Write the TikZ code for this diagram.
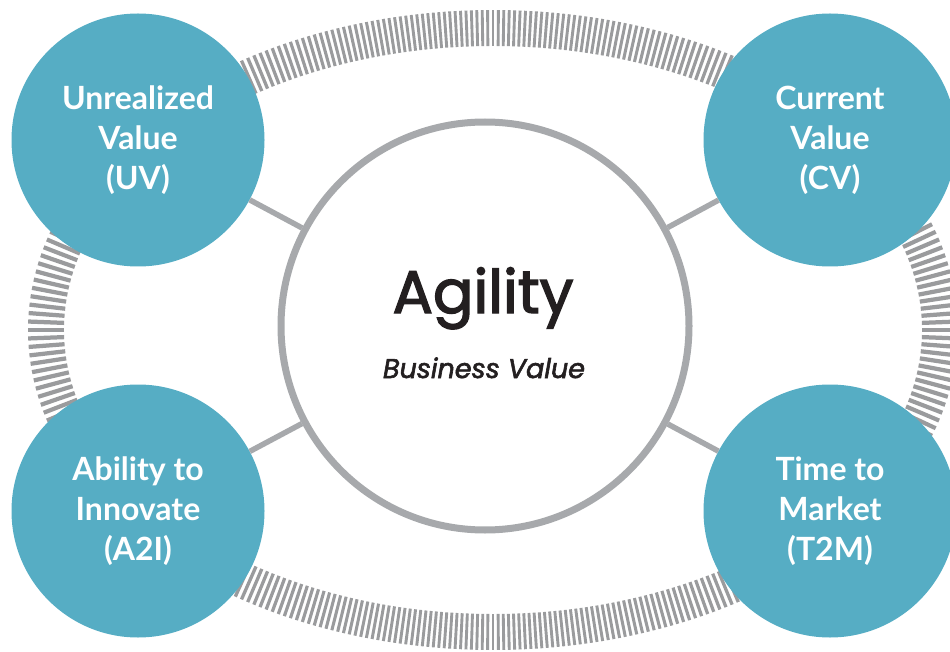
\documentclass[tikz,border=0pt]{standalone}
\usepackage{fontspec}
\setmainfont{Poppins}
\newfontfamily\valuefont{Lato}
\usetikzlibrary{positioning}

\definecolor{teal}{HTML}{56ADC4}
\definecolor{linkgray}{HTML}{A7A9AC}
\definecolor{bandgray}{HTML}{9A9B9D}
\definecolor{ink}{HTML}{231F20}

% heavier strokes for the hub text
\newcommand{\thicktext}[2]{\special{pdf:literal direct 2 Tr #1 w}#2\special{pdf:literal direct 0 Tr}}

\begin{document}
\begin{tikzpicture}[x=1pt, y=-1pt,
    hub/.style={circle, draw=linkgray, line width=7pt, fill=white, minimum size=408pt, inner sep=0pt},
    value/.style={circle, fill=teal, minimum size=253pt, inner sep=0pt, text=white, align=center,
      font=\valuefont\bfseries\fontsize{32}{40}\selectfont},
    link/.style={draw=linkgray, line width=5.5pt},
    tick/.style={draw=bandgray}]
    \useasboundingbox (0,0) rectangle (950,652);

    % Band
    \begin{scope}[shift={(493,330)}]
        \foreach \a in {0,1,...,359}{
            \pgfmathsetmacro\t{atan2(4.47*sin(\a),3.02*cos(\a))}
            \pgfmathsetmacro\nl{veclen(3.02*cos(\t),4.47*sin(\t))}
            \pgfmathsetmacro\nx{18*3.02*cos(\t)/\nl}
            \pgfmathsetmacro\ny{18*4.47*sin(\t)/\nl}
            \pgfmathsetmacro\w{0.95*veclen(4.47*cos(\t),3.02*sin(\t))}
            \draw[tick, line width=\w pt] ({447*cos(\t)-\nx},{302*sin(\t)-\ny}) -- ++({2*\nx},{2*\ny});
        }
    \end{scope}

    % Hub
    \node[hub] (hub) at (485,326) {};
    \node[anchor=base, text=ink, font=\fontsize{60}{66}\selectfont] (agility) at (483,313) {\thicktext{1.4}{Agility}};
    \node[anchor=base, text=ink, font=\fontsize{27}{30}\selectfont\itshape] (biz) at (484,378) {\thicktext{0.6}{Business Value}};

    % Values
    \node[value] (uv) at (138,140) {Unrealized\\Value\\(UV)};
    \node[value] (cv) at (830,140) {Current\\Value\\(CV)};
    \node[value] (a2i) at (138,511) {Ability to\\Innovate\\(A2I)};
    \node[value] (t2m) at (830,511) {Time to\\Market\\(T2M)};

    % Links
    \draw[link] (uv) -- (hub);
    \draw[link] (cv) -- (hub);
    \draw[link] (a2i) -- (hub);
    \draw[link] (t2m) -- (hub);
\end{tikzpicture}
\end{document}
